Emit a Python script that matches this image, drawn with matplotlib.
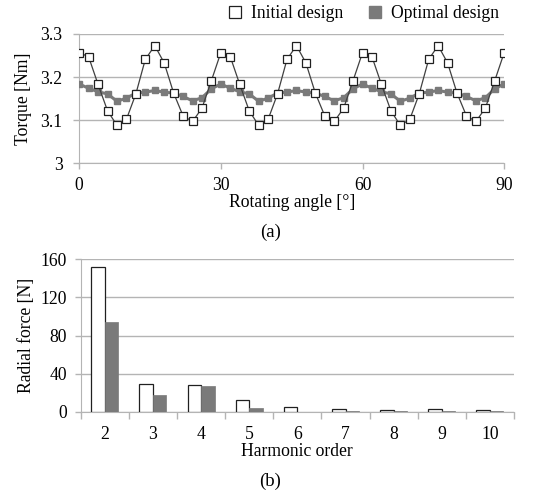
import numpy as np
import matplotlib.pyplot as plt
from matplotlib.lines import Line2D

plt.rcParams['font.family'] = ['Liberation Serif', 'DejaVu Serif']
plt.rcParams['font.size'] = 12.7

# Torque vs rotating angle (values read every 2 degrees)
angle = list(range(0, 92, 2))
torqueInitial = [3.257, 3.247, 3.183, 3.122, 3.088, 3.102, 3.161, 3.241, 3.273, 3.233,
                 3.163, 3.110, 3.097, 3.128, 3.192,
                 3.257, 3.247, 3.183, 3.122, 3.088, 3.102, 3.161, 3.241, 3.273, 3.233,
                 3.163, 3.110, 3.097, 3.128, 3.192,
                 3.257, 3.247, 3.183, 3.122, 3.088, 3.102, 3.161, 3.241, 3.273, 3.233,
                 3.163, 3.110, 3.097, 3.128, 3.192,
                 3.257]
torqueOptimal = [3.184, 3.174, 3.166, 3.161, 3.144, 3.151, 3.163, 3.165, 3.169, 3.165,
                 3.163, 3.155, 3.145, 3.152, 3.173,
                 3.184, 3.174, 3.166, 3.161, 3.144, 3.151, 3.163, 3.165, 3.169, 3.165,
                 3.163, 3.155, 3.145, 3.152, 3.173,
                 3.184, 3.174, 3.166, 3.161, 3.144, 3.151, 3.163, 3.165, 3.169, 3.165,
                 3.163, 3.155, 3.145, 3.152, 3.173,
                 3.184]

# Radial force harmonics
harmonics = [2, 3, 4, 5, 6, 7, 8, 9, 10]
forceInitial = [152.3, 28.7, 27.7, 11.8, 4.9, 2.8, 1.8, 2.8, 1.8]
forceOptimal = [93.8, 17.5, 26.6, 3.9, 0.2, 0.7, 0.3, 0.7, 0.3]

gridColor = '#b4b4b4'
grayFill = '#7a7a7a'

fig = plt.figure(figsize=(5.35, 4.94), dpi=100)

# ---- (a) torque ----
ax1 = fig.add_axes([0.148, 0.6694, 0.7945, 0.2618])
ax1.plot(angle, torqueOptimal, color=grayFill, lw=2.2, marker='s', ms=5,
         mfc=grayFill, mec=grayFill, zorder=3)
ax1.plot(angle, torqueInitial, color='#404040', lw=0.9, marker='s', ms=6,
         mfc='white', mec='#202020', mew=0.9, zorder=4)
ax1.set_xlim(0, 90)
ax1.set_ylim(3, 3.3)
ax1.set_xticks([0, 30, 60, 90])
ax1.set_yticks([3, 3.1, 3.2, 3.3])
ax1.set_yticklabels(['3', '3.1', '3.2', '3.3'])
ax1.yaxis.grid(True, color=gridColor, lw=1)
for s in ['top', 'right']:
    ax1.spines[s].set_visible(False)
for s in ['left', 'bottom']:
    ax1.spines[s].set_color(gridColor)
ax1.tick_params(axis='both', color=gridColor, length=4, width=1)
ax1.tick_params(axis='y', pad=8)
ax1.tick_params(axis='x', pad=6)
ax1.set_ylabel('Torque [Nm]', labelpad=6)
ax1.set_xlabel('Rotating angle [°]', labelpad=0)
fig.text(0.505, 0.530, '(a)', ha='center', va='center', fontsize=13.5)

handles = [Line2D([], [], ls='none', marker='s', ms=8, mfc='white', mec='#202020', mew=0.9),
           Line2D([], [], ls='none', marker='s', ms=8, mfc=grayFill, mec=grayFill)]
fig.legend(handles, ['Initial design', 'Optimal design'], loc='center right',
           bbox_to_anchor=(0.962, 0.973), ncol=2, frameon=False,
           handletextpad=0.3, columnspacing=1.2, handlelength=1.2)

# ---- (b) radial force ----
ax2 = fig.add_axes([0.1508, 0.1666, 0.810, 0.3085])
x = np.arange(len(harmonics))
barW = 0.28
ax2.bar(x - barW / 2, forceInitial, barW, color='white', edgecolor='#202020', lw=0.9, zorder=3)
ax2.bar(x + barW / 2, forceOptimal, barW, color=grayFill, edgecolor=grayFill, lw=0.5, zorder=3)
ax2.set_xlim(-0.5, len(harmonics) - 0.5)
ax2.set_ylim(0, 160)
ax2.set_yticks([0, 40, 80, 120, 160])
ax2.set_xticks(x)
ax2.set_xticklabels([str(h) for h in harmonics])
ax2.set_xticks(np.arange(len(harmonics) + 1) - 0.5, minor=True)
ax2.tick_params(axis='x', which='major', length=0, pad=10)
ax2.tick_params(axis='x', which='minor', length=5, color=gridColor, width=1)
ax2.tick_params(axis='y', length=4, color=gridColor, width=1, pad=6)
ax2.yaxis.grid(True, color=gridColor, lw=1)
ax2.set_axisbelow(True)
for s in ['top', 'right']:
    ax2.spines[s].set_visible(False)
for s in ['left', 'bottom']:
    ax2.spines[s].set_color(gridColor)
ax2.set_ylabel('Radial force [N]', labelpad=4)
ax2.set_xlabel('Harmonic order', labelpad=0)
fig.text(0.505, 0.026, '(b)', ha='center', va='center', fontsize=13.5)

fig.savefig('out.png', dpi=100)
